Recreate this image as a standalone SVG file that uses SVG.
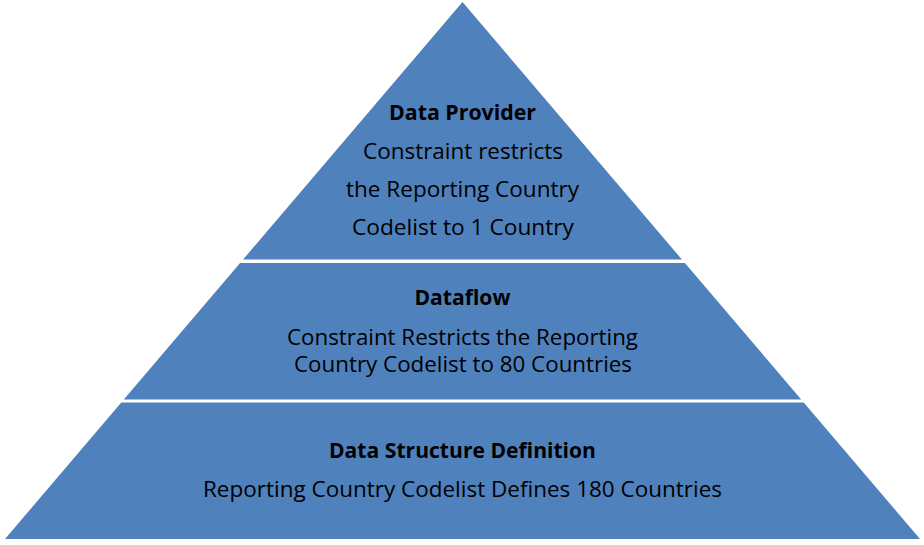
<svg xmlns="http://www.w3.org/2000/svg" width="924" height="545" viewBox="0 0 924 545">
<style>
.layer{fill:#4F81BD;stroke:none}
text{font-family:"Open Sans","Noto Sans",sans-serif;font-size:21px;fill:#000;text-anchor:middle}
.b{font-weight:bold}
</style>
<rect width="924" height="545" fill="#fff"/>
<g id="provider">
<polygon class="layer" points="462.5,2 681.9,259.5 243.1,259.5"/>
<text class="b" x="462.5" y="120" textLength="147" lengthAdjust="spacingAndGlyphs">Data Provider</text>
<text x="463" y="158.5" textLength="200" lengthAdjust="spacingAndGlyphs">Constraint restricts</text>
<text x="462.5" y="197" textLength="233" lengthAdjust="spacingAndGlyphs">the Reporting Country</text>
<text x="463" y="235" textLength="222" lengthAdjust="spacingAndGlyphs">Codelist to 1 Country</text>
</g>
<g id="dataflow">
<polygon class="layer" points="240.1,263 684.9,263 801.2,399.5 123.8,399.5"/>
<text class="b" x="462.5" y="305" textLength="96" lengthAdjust="spacingAndGlyphs">Dataflow</text>
<text x="462.5" y="345" textLength="351" lengthAdjust="spacingAndGlyphs">Constraint Restricts the Reporting</text>
<text x="463" y="372" textLength="338" lengthAdjust="spacingAndGlyphs">Country Codelist to 80 Countries</text>
</g>
<g id="dsd">
<polygon class="layer" points="121.3,402.5 803.7,402.5 920,539 5,539"/>
<text class="b" x="462.5" y="458" textLength="267" lengthAdjust="spacingAndGlyphs">Data Structure Definition</text>
<text x="462.5" y="497" textLength="519" lengthAdjust="spacingAndGlyphs">Reporting Country Codelist Defines 180 Countries</text>
</g>
<g id="connectors"/>
</svg>
